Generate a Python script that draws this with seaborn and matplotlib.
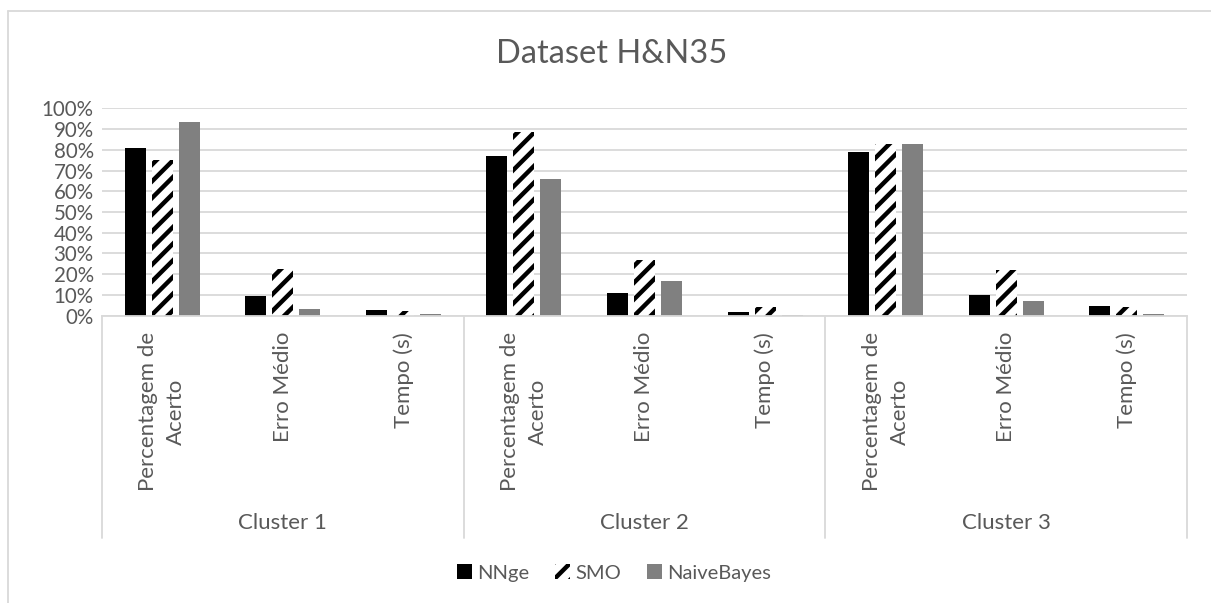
import matplotlib.pyplot as plt
import matplotlib.ticker as mticker
from matplotlib.lines import Line2D
from matplotlib.patches import Patch
import seaborn as sns
import pandas as pd

# data (fractions)
clusters = ['Cluster 1', 'Cluster 2', 'Cluster 3']
metrics = ['Percentagem de\nAcerto', 'Erro Médio', 'Tempo (s)']
algorithms = ['NNge', 'SMO', 'NaiveBayes']
nnge = [0.81, 0.093, 0.028, 0.77, 0.11, 0.016, 0.79, 0.10, 0.049]
smo = [0.75, 0.224, 0.025, 0.885, 0.27, 0.04, 0.83, 0.22, 0.04]
naive_bayes = [0.935, 0.03, 0.008, 0.66, 0.167, 0.002, 0.83, 0.073, 0.008]

colors = ['#000000', '#ffffff', '#808080']
text_color = '#595959'
grid_color = '#d9d9d9'

sns.set_style('white')
plt.rcParams['font.family'] = ['Lato', 'DejaVu Sans']
plt.rcParams['hatch.linewidth'] = 3.2

rows = []
for ci, cl in enumerate(clusters):
    for mi, m in enumerate(metrics):
        k = ci * 3 + mi
        key = f'{cl}|{m}'
        for alg, vals in zip(algorithms, [nnge, smo, naive_bayes]):
            rows.append({'grupo': key, 'algoritmo': alg, 'valor': vals[k]})
df = pd.DataFrame(rows)
order = list(dict.fromkeys(df['grupo']))

W, H = 1211, 603
fig = plt.figure(figsize=(W / 100, H / 100), dpi=100)
ax = fig.add_axes([102 / W, 1 - 315.7 / H, (1187 - 102) / W, (315.7 - 108.3) / H])

sns.barplot(data=df, x='grupo', y='valor', hue='algoritmo', order=order,
            hue_order=algorithms, palette=colors, width=0.672, gap=0.22,
            saturation=1, legend=False, ax=ax)

for bars, c in zip(ax.containers, colors):
    for b in bars:
        b.set_linewidth(0)
        if c == '#ffffff':
            b.set_edgecolor('black')
            b.set_hatch('//')

ax.set_ylim(0, 1)
ax.set_xlim(-0.5, len(order) - 0.5)
ax.yaxis.set_major_locator(mticker.MultipleLocator(0.1))
ax.yaxis.set_major_formatter(mticker.PercentFormatter(1.0, decimals=0))
ax.grid(axis='y', color=grid_color, linewidth=1.3)
ax.set_axisbelow(True)
for s in ['left', 'right', 'top']:
    ax.spines[s].set_visible(False)
ax.spines['bottom'].set_color(grid_color)
ax.spines['bottom'].set_linewidth(1.3)
ax.tick_params(axis='y', length=0, labelsize=14.8, labelcolor=text_color, pad=6)
ax.set_xticks([])
ax.set_xlabel('')
ax.set_ylabel('')

# multi-level category axis below the plot
px = lambda y: 1 - y / H
pos = ax.get_position()
to_ax = lambda y: (px(y) - pos.y0) / pos.height
trans = ax.get_xaxis_transform()
for i, key in enumerate(order):
    m = key.split('|')[1]
    ax.text(i, to_ax(332), m, transform=trans, rotation=90, rotation_mode='anchor',
            ha='right', va='center', multialignment='center',
            fontsize=16, color=text_color, linespacing=1.5, clip_on=False)
for ci, cl in enumerate(clusters):
    ax.text(ci * 3 + 1, to_ax(523), cl, transform=trans, ha='center', va='center',
            fontsize=16, color=text_color, clip_on=False)
for xs in [-0.5, 2.5, 5.5, 8.5]:
    ax.add_line(Line2D([xs, xs], [0, to_ax(538)], transform=trans, color=grid_color,
                       linewidth=1.3, clip_on=False))

fig.text(612 / W, px(54), 'Dataset H&N35', ha='center', va='center',
         fontsize=23.5, color=text_color)

# chart border (left and top edges visible)
fig.add_artist(Line2D([8 / W, 8 / W], [0, px(11)], color=grid_color, linewidth=1.3))
fig.add_artist(Line2D([8 / W, 1], [px(11), px(11)], color=grid_color, linewidth=1.3))

handles = [Patch(facecolor='#000000', linewidth=0),
           Patch(facecolor='#ffffff', edgecolor='black', hatch='//', linewidth=0),
           Patch(facecolor='#808080', linewidth=0)]
leg = fig.legend(handles, algorithms, loc='center', bbox_to_anchor=(614 / W, px(573)),
                 ncol=3, frameon=False, handlelength=0.75, handleheight=0.75,
                 handletextpad=0.25, columnspacing=1.3, fontsize=14.5)
for t in leg.get_texts():
    t.set_color(text_color)

fig.savefig('out.png', dpi=100)
